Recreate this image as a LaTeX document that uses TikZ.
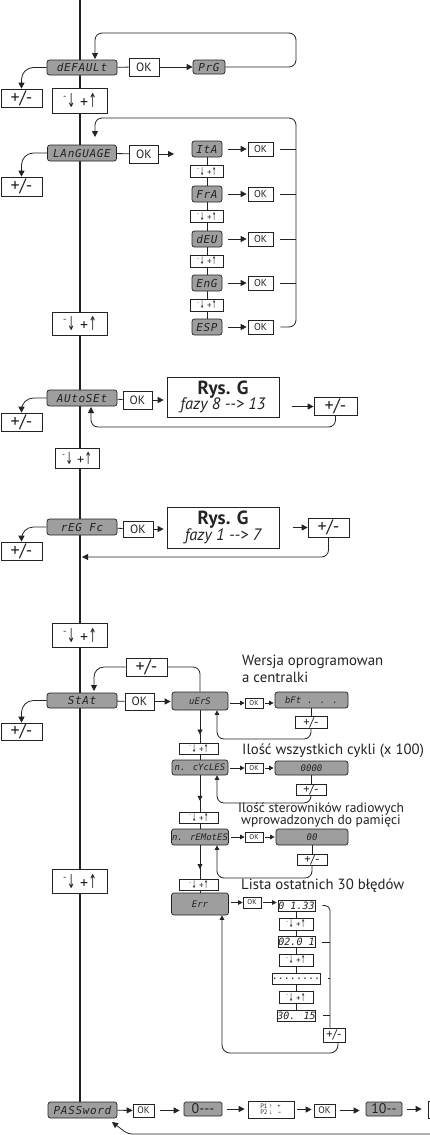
\documentclass[tikz,border=0pt]{standalone}
\usepackage{fontspec}
\usepackage{graphicx}
\setmainfont{PT Sans}
\newfontfamily\arrf{Liberation Sans}
\newfontfamily\symf{DejaVu Sans}
\newfontfamily\lcdf{DejaVu Sans Mono}[LetterSpace=6]
\newfontfamily\lcdn{DejaVu Sans Mono}
\usetikzlibrary{arrows.meta,calc,backgrounds,decorations.markings}
\definecolor{lcdgray}{RGB}{158,158,158}
\definecolor{ink}{RGB}{35,35,35}
\newcommand\fsz[1]{\fontsize{#1}{#1}\selectfont}
\newcommand\udsym{{\raisebox{0.5em}{\scalebox{0.6}{-}}\kern0.5pt\scalebox{0.62}[1.2]{\symf↓}\hspace{0.3em}+\kern0.3pt\scalebox{0.62}[1.2]{\symf↑}}}
\tikzset{
 ln/.style={draw=ink,line width=0.8pt},
 ar/.style={ln,-{Triangle[length=6pt,width=6pt]}},
 ars/.style={ln,-{Triangle[length=4.5pt,width=4.5pt]}},
 midar/.style={ln,decoration={markings,mark=at position #1 with {\arrow{Triangle[length=5pt,width=5pt]}}},postaction={decorate}},
 mainl/.style={draw=ink,line width=2pt},
 sz/.style 2 args={minimum width=#1,minimum height=#2},
 lcd/.style={draw=ink,fill=lcdgray,rounded corners=2.5pt,line width=0.7pt,inner sep=0pt,text=ink,font=\lcdf\itshape\fsz{11}},
 lcds/.style={lcd,font=\lcdn\itshape\fsz{9}},
 kb/.style={draw=ink,fill=white,line width=0.7pt,inner sep=0pt,text=ink},
 lcdw/.style={kb,font=\lcdn\itshape\fsz{10}},
 okf/.style={kb,font=\fsz{12}},
 oks/.style={kb,font=\fsz{10}},
 okt/.style={kb,font=\fsz{7}},
 okp/.style={kb,font=\fsz{9.5}},
 pmf/.style={kb,font=\fsz{18}},
 pms/.style={kb,font=\fsz{12.5}},
 udf/.style={kb,font=\fsz{16}},
 uds/.style={kb,font=\fsz{9}},
 rys/.style={kb,align=center},
 gbox/.style={draw=ink,fill=lcdgray,rounded corners=1.5pt,line width=0.7pt,inner sep=0pt,text=ink,font=\fsz{14}},
 lbl/.style={anchor=west,inner sep=0pt,text=ink,font=\fsz{14.8},align=left},
}
\begin{document}
\begin{tikzpicture}[x=1pt,y=-1pt]
\useasboundingbox (0,0) rectangle (430,1135);
\clip (0,0) rectangle (430,1135);
\coordinate (top) at (80,0);
% ---- DEFAULT
\node[lcd,sz={70}{15}] (dft) at (82,67.5) {dEFAULt};
\node[okf,sz={30}{18}] (ok1) at (144,67) {OK};
\node[lcd,sz={32}{14}] (prg) at (209,67) {PrG};
\node[pmf,sz={41}{18}] (pm1) at (21.5,98) {+/-};
\node[udf,sz={55}{25}] (ud1) at (80,100.5) {\udsym};
\coordinate (dftin) at (95,59);
\draw[ln] (dft) -- (ok1);
\draw[ar] (ok1) -- (prg);
\draw[ar,rounded corners=7] (prg.east) -| (296,33) -| (dftin);
\draw[ar,rounded corners=12] (dft.west) -| (pm1.north);
% ---- LANGUAGE
\node[lcd,sz={69}{16}] (lang) at (82,153) {LAnGUAGE};
\node[okf,sz={29}{18}] (ok2) at (144,154) {OK};
\coordinate (langout) at (174,154);
\node[pmf,sz={41}{19}] (pm2) at (21.5,186.5) {+/-};
\draw[ln] (lang) -- (ok2);
\draw[ar] (ok2) -- (langout);
\draw[ar,rounded corners=12] (lang.west) -| (pm2.north);
\foreach \n/\tx/\y in {ita/ItA/149,fra/FrA/194,deu/dEU/239,eng/EnG/283,esp/ESP/327}{
  \node[lcd,sz={30}{16}] (\n) at (207,\y) {\tx};
  \node[oks,sz={25}{14}] (ok\n) at (260.5,\y) {OK};
  \draw[ar,shorten <=6pt,shorten >=1pt] (\n) -- (ok\n);
}
\foreach \i/\y in {1/171.5,2/216.5,3/261,4/305}
  \node[uds,sz={33}{12}] (lu\i) at (207,\y) {\udsym};
\coordinate (lbr) at (296,118);
\coordinate (langin) at (95,137);
\foreach \n in {ita,fra,deu,eng}
  \draw[ln] ([xshift=7pt]ok\n.east) -- (ok\n.east -| lbr);
\draw[ar,rounded corners=7] ([xshift=7pt]okesp.east) -| (lbr) -| (langin);
\node[udf,sz={55}{23}] (ud2) at (80,323.5) {\udsym};
% ---- AUTOSET
\node[lcd,sz={70}{16}] (auto) at (82,398) {AUtoSEt};
\node[okf,sz={29}{18}] (ok3) at (137.5,400) {OK};
\node[rys,sz={112}{40}] (rysA) at (223,397) {\fsz{19}\bfseries Rys. G\\[-1pt]\fsz{16.5}\itshape fazy 8 -{}-{}> 13};
\node[pmf,sz={43}{18}] (pmA) at (335.5,406.5) {+/-};
\node[pmf,sz={41}{18}] (pm3) at (21.5,422) {+/-};
\node[udf,sz={44}{20},font=\fsz{14}] (ud3) at (77,458) {\udsym};
\coordinate (autoin) at (91,407);
\draw[ln] (auto) -- (ok3);
\draw[ar,shorten >=3pt] (ok3) -- (ok3 -| rysA.west);
\draw[ar] ($(pmA.west)+(-22,0)$) -- (pmA.west);
\draw[ar,rounded corners=7] (pmA.south) |- (91,427) -- (autoin);
\draw[ar,rounded corners=12] (auto.west) -| (pm3.north);
% ---- REG FC
\node[lcd,sz={70}{16}] (reg) at (82,527) {rEG Fc};
\node[okf,sz={30}{16}] (ok4) at (138,529) {OK};
\node[rys,sz={112}{41}] (rysB) at (223,527.5) {\fsz{19}\bfseries Rys. G\\[-1pt]\fsz{16.5}\itshape fazy 1 -{}-{}> 7};
\node[pmf,sz={41}{19}] (pmB) at (328.5,527.5) {+/-};
\node[pmf,sz={41}{18}] (pm4) at (21.5,551) {+/-};
\node[udf,sz={55}{24}] (ud4) at (80,635) {\udsym};
\coordinate (regin) at (82,557);
\draw[ln] (reg) -- (ok4);
\draw[ar,shorten >=3pt] (ok4) -- (ok4 -| rysB.west);
\draw[ar] ($(pmB.west)+(-15,0)$) -- (pmB.west);
\draw[ar,rounded corners=7] (pmB.south) |- (regin);
\draw[ar,rounded corners=12] (reg.west) -| (pm4.north);
% ---- STAT
\node[lcd,sz={70}{15}] (stat) at (82,700.5) {StAt};
\node[okf,sz={29}{17}] (ok5) at (139.5,701.5) {OK};
\node[lcds,sz={56}{18}] (uers) at (200,701) {uErS};
\node[pmf,sz={41}{18}] (pmS) at (146.5,667) {+/-};
\node[pmf,sz={41}{17}] (pm5) at (21.5,731.5) {+/-};
\node[udf,sz={55}{24}] (ud5) at (80,881) {\udsym};
\coordinate (statin) at (94,691);
\draw[ln] (stat) -- (ok5);
\draw[ar,shorten >=1pt] (ok5) -- (ok5 -| uers.west);
\draw[ln,rounded corners=7] (uers.north) |- (pmS.east);
\draw[ar,rounded corners=10] (pmS.west) -| (statin);
\draw[ar,rounded corners=12] (stat.west) -| (pm5.north);
% versione
\node[okt,sz={18}{10}] (okV) at (254,703) {OK};
\node[lcds,sz={73}{16}] (bft) at (311.5,700) {bFt\hspace{6pt}. . .\hspace{22pt}};
\node[pms,sz={32}{12}] (pmV) at (311,722.5) {+/-};
\node[lbl] (t1) at (242,668.5) {Wersja oprogramowan\\[2pt]a centralki};
\draw[ars,shorten <=2pt] (uers.east |- okV.west) -- (okV.west);
\draw[ars,shorten <=2pt,shorten >=1pt] (okV.east) -- (okV.east -| bft.west);
\draw[ln] (bft.south -| pmV.north) -- (pmV.north);
\draw[ars,rounded corners=7] (pmV.south) |- (217,739) -- ([xshift=17pt]uers.south);
% cycles
\node[uds,sz={39}{11}] (us1) at (199,748.5) {\udsym};
\node[lcds,sz={56}{15}] (ncyc) at (200,767.5) {n. cYcLES};
\node[okt,sz={18}{10}] (okC) at (254,768) {OK};
\node[lcds,sz={73}{14}] (z4) at (311.5,768) {0000\hspace{22pt}};
\node[pms,sz={30}{11}] (pmC) at (311,789.5) {+/-};
\node[lbl] (t2) at (242,751) {Ilość wszystkich cykli (x 100)};
\draw[midar=0.75] (uers.south) -- (uers.south |- us1.north);
\draw[ln] (us1.south -| ncyc.north) -- (ncyc.north);
\draw[ars,shorten <=2pt] (ncyc.east |- okC.west) -- (okC.west);
\draw[ars,shorten <=2pt,shorten >=1pt] (okC.east) -- (okC.east -| z4.west);
\draw[ln] (z4.south -| pmC.north) -- (pmC.north);
\draw[ars,rounded corners=7] (pmC.south) |- (217,803) -- ([xshift=17pt]ncyc.south);
% remotes
\node[uds,sz={39}{11}] (us2) at (199,817.5) {\udsym};
\node[lcds,sz={57}{16}] (nrem) at (200,837) {n. rEMotES};
\node[okt,sz={18}{10}] (okR) at (254,837) {OK};
\node[lcds,sz={72}{16}] (z2) at (312,837) {00\hspace{10pt}};
\node[pms,sz={30}{11}] (pmR) at (312,859.5) {+/-};
\node[lbl,font=\fsz{13.5}] (t3) at (238,815) {Ilość sterowników radiowych\\[-1.5pt]\hspace{3pt}wprowadzonych do pamięci};
\draw[midar=0.7] (ncyc.south) -- (ncyc.south |- us2.north);
\draw[ln] (us2.south -| nrem.north) -- (nrem.north);
\draw[ars,shorten <=2pt] (nrem.east |- okR.west) -- (okR.west);
\draw[ars,shorten <=2pt,shorten >=1pt] (okR.east) -- (okR.east -| z2.west);
\draw[ln] (z2.south -| pmR.north) -- (pmR.north);
\draw[ars,rounded corners=7] (pmR.south) |- (217,878) -- ([xshift=17pt]nrem.south);
% errors
\node[uds,sz={39}{11}] (us3) at (199,885) {\udsym};
\node[lcds,sz={57}{22}] (err) at (200,904) {Err};
\node[okt,sz={18}{11}] (okE) at (252,902.5) {OK};
\node[lbl] (t4) at (241,886) {Lista ostatnich 30 błędów};
\node[lcdw,sz={37}{11}] (e1) at (296.5,905.5) {0 1.33};
\node[lcdw,sz={37}{11}] (e2) at (296.5,942) {02.0 1};
\node[lcdw,sz={37}{11}] (e3) at (296.5,978.5) {\raisebox{-2pt}{........}};
\node[lcdw,sz={37}{11}] (e4) at (296.5,1015.5) {30. 15};
\foreach \i/\y in {1/924,2/960,3/997.5}
  \node[uds,sz={34}{12}] (eu\i) at (296,\y) {\udsym};
\node[pms,sz={22}{14}] (pmE) at (334,1035) {+/-};
\coordinate (ebr) at (330,0);
\draw[midar=0.7] (nrem.south) -- (nrem.south |- us3.north);
\draw[ln] (us3.south -| err.north) -- (err.north);
\draw[ars,shorten <=2pt] (err.east |- okE.west) -- (okE.west);
\draw[ars,shorten <=2pt,shorten >=1pt] (okE.east) -- (okE.east -| e1.west);
\foreach \n in {e2,e3,e4}
  \draw[ln] ([xshift=7pt]\n.east) -- (\n.east -| ebr);
\draw[ln,rounded corners=5] ([xshift=7pt]e1.east) -| (ebr |- pmE.north);
\draw[ars,rounded corners=8] ([xshift=4pt]pmE.south) |- (222,1053) -- ([xshift=22pt]err.south);
% ---- PASSWORD
\node[lcd,sz={69}{16}] (pwd) at (82.5,1110) {PASSword};
\node[okp,sz={21}{13}] (okP1) at (143.5,1110.5) {OK};
\node[gbox,sz={38}{14}] (zP) at (203,1109) {0-{}-{}-};
\node[kb,sz={46}{17},align=left,font=\fsz{6.5}] (p12) at (271,1109.5) {P1 {\arrf↑}\hspace{5pt}+\\P2 {\arrf↓}\hspace{5pt}–};
\node[okp,sz={21}{13}] (okP2) at (324.5,1110.5) {OK};
\node[gbox,sz={36}{14}] (tenP) at (384,1109) {10-{}-};
\node[kb,sz={34}{17}] (nxt) at (445,1109.5) {};
\coordinate (pwdret) at (112,1122);
\coordinate (retin) at (440,1134);
\draw[ar] (pwd) -- (okP1);
\draw[ar,shorten <=6pt,shorten >=4pt] (okP1) -- (okP1 -| zP.west);
\draw[ar,shorten <=5pt,shorten >=3pt] (zP) -- (zP -| p12.west);
\draw[ar,shorten <=3pt,shorten >=2pt] (p12) -- (p12 -| okP2.west);
\draw[ar,shorten <=5pt,shorten >=6pt] (okP2) -- (okP2 -| tenP.west);
\draw[ar,shorten <=5pt,shorten >=6pt] (tenP) -- (tenP -| nxt.west);
\draw[ar,rounded corners=4] (retin) -- (128,1134) -- (pwdret);
% ---- background lines
\begin{pgfonlayer}{background}
\fill[white] (0,0) rectangle (430,1135);
\draw[mainl] (top) -- (top |- pwd.north);
\draw[ln] (ita) -- (esp);
\draw[ln] (e1) -- (e4);
\end{pgfonlayer}
\end{tikzpicture}
\end{document}
